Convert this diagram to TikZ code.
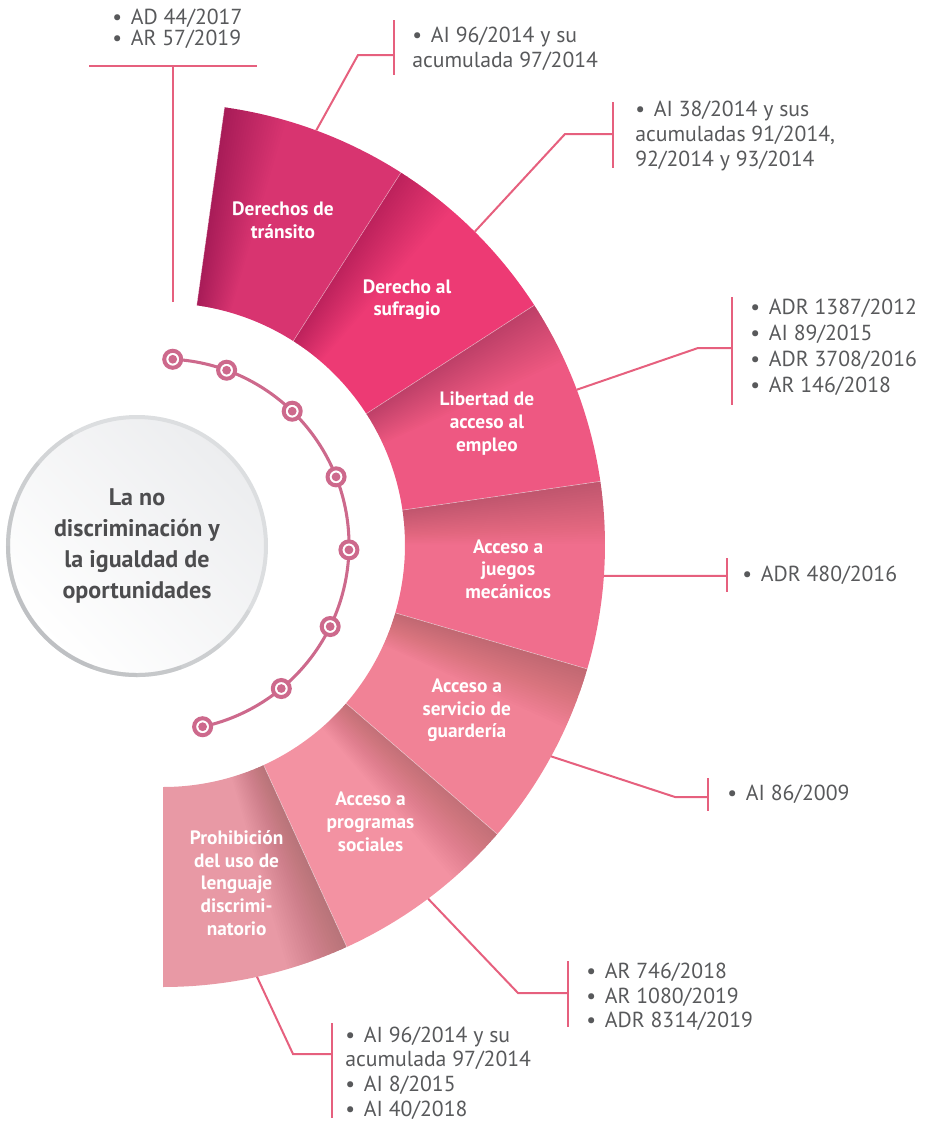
\documentclass[tikz,border=0pt]{standalone}
\usepackage{fontspec}
\setmainfont{PT Sans}
\usetikzlibrary{calc}
\definecolor{SegA}{RGB}{216,52,112}
\definecolor{SegB}{RGB}{237,58,116}
\definecolor{SegC}{RGB}{238,88,130}
\definecolor{SegD}{RGB}{240,110,141}
\definecolor{SegE}{RGB}{241,130,150}
\definecolor{SegF}{RGB}{243,146,162}
\definecolor{SegG}{RGB}{232,153,165}
\definecolor{LinkPink}{RGB}{230,96,126}
\definecolor{DotPink}{RGB}{205,105,140}
\definecolor{TextGray}{RGB}{88,89,91}
\definecolor{CoreText}{RGB}{77,77,79}
\definecolor{CoreShade}{RGB}{236,237,239}
\definecolor{CoreRim}{RGB}{220,222,224}
\definecolor{CoreRimDark}{RGB}{180,182,185}
\newcommand\bul{\makebox[14pt][l]{\textbullet}}
\tikzset{
  seglabel/.style={text=white,font=\bfseries\fontsize{14.5}{17}\selectfont,align=center,inner sep=0pt},
  reflist/.style={text=TextGray,font=\fontsize{16.3}{18.4}\selectfont,align=left,anchor=west,inner sep=0pt},
  coretext/.style={text=CoreText,font=\bfseries\fontsize{18}{23.2}\selectfont,align=center},
  link/.style={draw=LinkPink,line width=1.5pt},
  trail/.style={draw=DotPink,line width=2.3pt},
  ring/.style={circle,draw=DotPink,fill=white,line width=3pt,minimum size=12.75pt,inner sep=0pt,
    path picture={\fill[DotPink] (path picture bounding box.center) circle (3.3pt);}},
}
\begin{document}
\begin{tikzpicture}[x=0.75pt,y=0.75pt]
  \useasboundingbox (0,0) rectangle (927,-1122);
  \coordinate (C) at (163,-545);
  \foreach \c/\t [count=\i] in {SegA/{Derechos de\\tránsito},SegB/{Derecho al\\sufragio},
      SegC/{Libertad de\\acceso al\\empleo},SegD/{Acceso a\\juegos\\mecánicos},
      SegE/{Acceso a\\servicio de\\guardería},SegF/{Acceso a\\programas\\sociales},
      SegG/{Prohibición\\del uso de\\lenguaje\\discrimi-\\natorio}} {
    \pgfmathsetmacro\aa{82-(\i-1)*24.5714}
    \pgfmathsetmacro\ab{82-\i*24.5714}
    \pgfmathsetmacro\am{82-(\i-0.5)*24.5714}
    \fill[\c] ($(C)+(\aa:242)$) arc[start angle=\aa,end angle=\ab,radius=242]
      -- ($(C)+(\ab:442)$) arc[start angle=\ab,end angle=\aa,radius=442] -- cycle;
    \foreach \k in {1,...,24} {
      \pgfmathsetmacro\ak{\aa-\k*0.34}
      \fill[black,opacity=0.0095] ($(C)+(\aa:242)$) arc[start angle=\aa,end angle=\ak,radius=242]
        -- ($(C)+(\ak:442)$) arc[start angle=\ak,end angle=\aa,radius=442] -- cycle;
    }
    \draw[white,opacity=.5,line width=.4pt] ($(C)+(\aa:242)$) -- ($(C)+(\aa:442)$);
    \node[seglabel] (s\i) at ($(C)+(\am:346)$) {\t};
    \coordinate (o\i) at ($(C)+(\am:442)$);
  }

  \draw[trail] ($(C)+(87:186)$) arc[start angle=87,end angle=-77.7,radius=186];
  \foreach \a [count=\j] in {87,70,46,21.5,-1.5,-26,-50.5,-77.7}
    \node[ring] (d\j) at ($(C)+(\a:186)$) {};

  \coordinate (H) at (137,-546);
  \shade[top color=CoreShade,bottom color=white,shading angle=-45] (H) circle (130);
  \draw[CoreRim,line width=3pt] (H) circle (129);
  \foreach \s in {25,45,...,105}
    \draw[CoreRimDark,opacity=.22,line width=3pt] ($(H)+(225+\s:129)$) arc[start angle=225+\s,end angle=225-\s,radius=129];
  \node[coretext] (core) at (H) {La no\\discriminación y\\la igualdad de\\oportunidades};

  \node[reflist,font=\fontsize{16.3}{15.8}\selectfont] (r0) at (112,-29) {\bul AD 44/2017\\\bul AR 57/2019};
  \node[reflist] (r1) at (412,-49) {\bul AI 96/2014 y su\\acumulada 97/2014};
  \node[reflist] (r2) at (635,-136) {\bul AI 38/2014 y sus\\acumuladas 91/2014,\\92/2014 y 93/2014};
  \node[reflist,font=\fontsize{16.3}{19.6}\selectfont] (r3) at (750,-347) {\bul ADR 1387/2012\\\bul AI 89/2015\\\bul ADR 3708/2016\\\bul AR 146/2018};
  \node[reflist] (r4) at (742,-575) {\bul ADR 480/2016};
  \node[reflist] (r5) at (727,-794) {\bul AI 86/2009};
  \node[reflist] (r6) at (586,-997) {\bul AR 746/2018\\\bul AR 1080/2019\\\bul ADR 8314/2019};
  \node[reflist] (r7) at (345,-1073) {\bul AI 96/2014 y su\\acumulada 97/2014\\\bul AI 8/2015\\\bul AI 40/2018};

  \coordinate (e0) at (173,-302);
  \coordinate (k0) at (173,-66);
  \coordinate (t0) at (89,-66);
  \coordinate (u0) at (257,-66);
  \draw[link] (e0) -- (k0);
  \draw[link] (t0) -- (u0);
  \foreach \i/\kx/\ky/\bx/\bt/\bb in {1/358/-55/394/-20/-75,2/565/-134/613/-102/-168,
      3/698/-348/732/-297/-405,4/650/-575.8/727/-558/-592,5/675/-797/708/-778/-811,
      6/518/-993/568/-961/-1027,7/293/-1054/332/-1023/-1118} {
    \coordinate (k\i) at (\kx,\ky);
    \coordinate (t\i) at (\bx,\bt);
    \coordinate (u\i) at (\bx,\bb);
    \draw[link] (o\i) -- (k\i) -- (k\i -| t\i);
    \draw[link] (t\i) -- (u\i);
  }
\end{tikzpicture}
\end{document}
